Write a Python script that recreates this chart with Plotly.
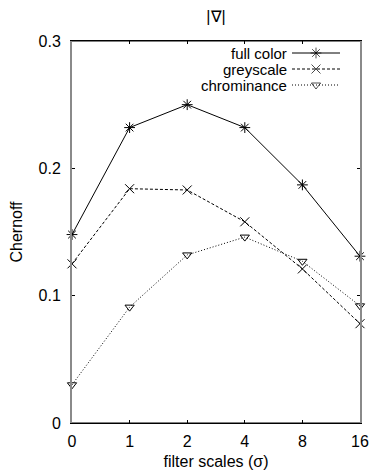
import plotly.graph_objects as go

# Filter scales (sigma) and Chernoff values per image representation
scale_labels = ["0", "1", "2", "4", "8", "16"]
full_color = [0.148, 0.232, 0.250, 0.232, 0.187, 0.131]
greyscale = [0.125, 0.184, 0.183, 0.158, 0.121, 0.078]
chrominance = [0.030, 0.091, 0.132, 0.146, 0.127, 0.092]
y_ticks = [0, 0.1, 0.2, 0.3]
y_tick_labels = ["0", "0.1", "0.2", "0.3"]

W, H = 370, 472
L, R, T, B = 72, 10, 41, 49
FONT = "Liberation Sans, Arial, Helvetica, sans-serif"

series = [
    ("full color", full_color, "solid", "asterisk-open", 9),
    ("greyscale", greyscale, "3px,2px", "x-thin-open", 9),
    ("chrominance", chrominance, "1px,2px", "triangle-down-open", 8),
]

xs = list(range(len(scale_labels)))
fig = go.Figure()
for name, vals, dash, sym, size in series:
    fig.add_trace(go.Scatter(
        x=xs, y=vals, mode="lines+markers", name=name, cliponaxis=False,
        line=dict(color="black", width=1, dash=dash),
        marker=dict(symbol=sym, size=size, color="black",
                    line=dict(color="black", width=1)),
        showlegend=False,
    ))

# Key in the upper right: text right-aligned, sample line to its right.
plot_w = W - L - R
plot_h = H - T - B
key_text_x = 288          # right edge of key labels (px)
key_line = (292, 340)     # sample line span (px)
key_rows = [53, 69, 85]   # row centres (px from top)

def px_to_x(px):
    return (px - L) / plot_w

def px_to_y(py):
    return 1 - (py - T) / plot_h

for (name, vals, dash, sym, size), row in zip(series, key_rows):
    yy = px_to_y(row)
    x0, x1 = px_to_x(key_line[0]), px_to_x(key_line[1])
    fig.add_trace(go.Scatter(
        x=[x0, (x0 + x1) / 2, x1], y=[yy, yy, yy], mode="lines+markers",
        xaxis="x2", yaxis="y2", cliponaxis=False, showlegend=False,
        line=dict(color="black", width=1, dash=dash),
        marker=dict(symbol=sym, size=[0, size, 0], color="black",
                    line=dict(color="black", width=1)),
        hoverinfo="skip",
    ))
    fig.add_annotation(
        x=px_to_x(key_text_x), y=yy, xref="x2", yref="y2",
        text=name, showarrow=False, xanchor="right", yanchor="middle",
        borderpad=0,
        font=dict(family=FONT, size=15, color="black"),
    )

fig.update_layout(
    width=W, height=H,
    margin=dict(l=L, r=R, t=T, b=B, autoexpand=False),
    paper_bgcolor="white", plot_bgcolor="white",
    font=dict(family=FONT, size=16, color="black"),
    title=dict(text="|∇|", x=(L + plot_w / 2) / W, xanchor="center",
               yref="container", y=1 - 16 / H, yanchor="middle",
               font=dict(family=FONT, size=16, color="black")),
    xaxis=dict(
        range=[0, len(scale_labels) - 1], tickvals=xs, ticktext=scale_labels,
        ticks="inside", ticklen=3, tickcolor="black", mirror="ticks",
        showline=True, linecolor="black", linewidth=1,
        showgrid=False, zeroline=False, automargin=False,
        title=dict(text="filter scales (σ)", standoff=6,
                   font=dict(family=FONT, size=16)),
        ticklabelstandoff=4,
    ),
    yaxis=dict(
        range=[0, 0.3], tickvals=y_ticks, ticktext=y_tick_labels,
        ticks="inside", ticklen=3, tickcolor="black", mirror="ticks",
        showline=True, linecolor="#8a8a8a", linewidth=2,
        showgrid=False, zeroline=False, automargin=False,
        title=dict(text="Chernoff", standoff=12,
                   font=dict(family=FONT, size=16)),
        ticklabelstandoff=6,
    ),
    xaxis2=dict(range=[0, 1], overlaying="x", visible=False, fixedrange=True),
    yaxis2=dict(range=[0, 1], overlaying="y", visible=False, fixedrange=True),
)

# Top and bottom borders in black over the full frame width
fig.add_shape(type="line", xref="paper", yref="paper", x0=0, x1=1, y0=1, y1=1,
              line=dict(color="black", width=1))
fig.add_shape(type="line", xref="paper", yref="paper", x0=0, x1=1, y0=0, y1=0,
              line=dict(color="black", width=1))

fig.write_html("out.html")
